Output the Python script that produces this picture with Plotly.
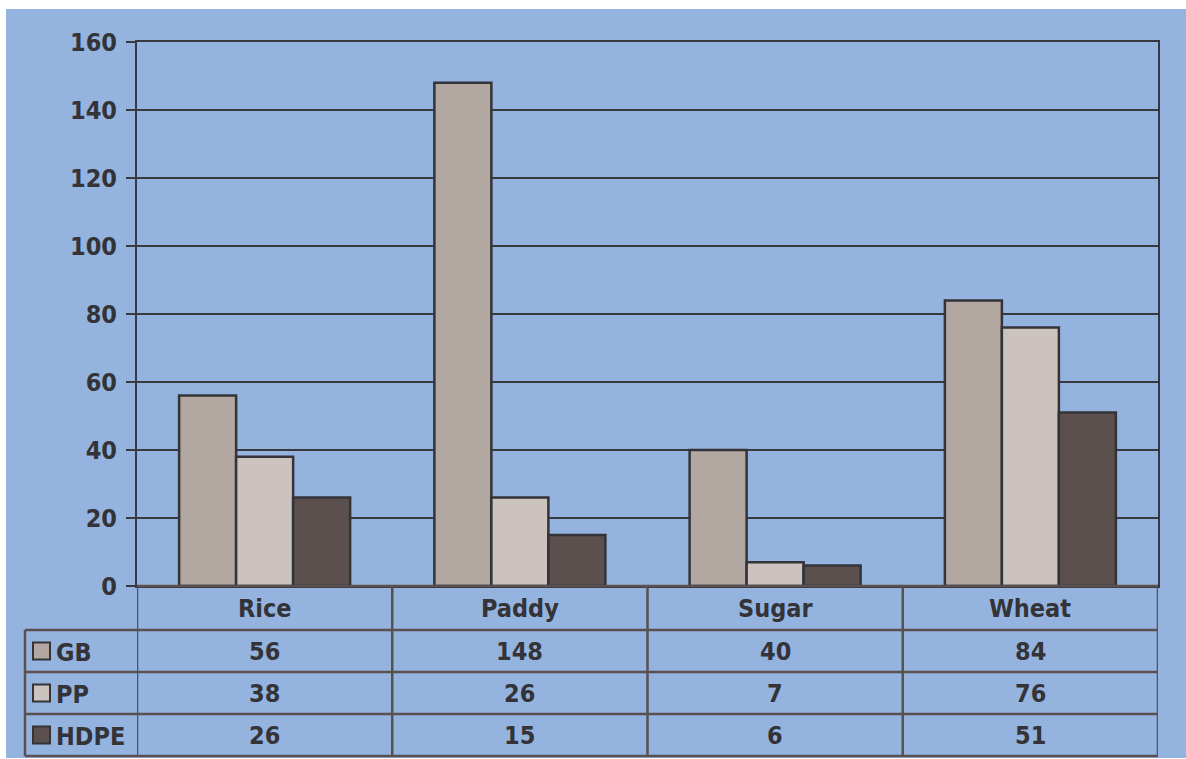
import plotly.graph_objects as go

categories = ["Rice", "Paddy", "Sugar", "Wheat"]
series_names = ["GB", "PP", "HDPE"]
gb = [56, 148, 40, 84]
pp = [38, 26, 7, 76]
hdpe = [26, 15, 6, 51]
series_values = [gb, pp, hdpe]
colors = ["#B3A7A2", "#CCC3BF", "#5B504D"]
y_ticks = [0, 20, 40, 60, 80, 100, 120, 140, 160]

W, H = 1186, 759
L, R, T, B = 137, 1158, 42, 586  # plot area in pixels
PW, PH = R - L, B - T

def px(x):
    return (x - L) / PW

def py(y):
    return (B - y) / PH

BG = "#95B3DF"
TXT = "#333338"
GRID = "#38383F"
TAB = "#5A5050"
FONT = "DejaVu Sans Condensed, DejaVu Sans"
FS = 25

fig = go.Figure()
for name, vals, col in zip(series_names, series_values, colors):
    fig.add_trace(go.Bar(
        x=categories, y=vals, name=name,
        marker=dict(color=col, line=dict(color="#333338", width=2.5)),
        showlegend=False,
    ))

shapes = []
# blue background panel
shapes.append(dict(type="rect", xref="paper", yref="paper", layer="below",
                   x0=px(6), x1=px(1186), y0=py(758), y1=py(9),
                   fillcolor=BG, line=dict(width=0)))

def hline(y, x0, x1):
    shapes.append(dict(type="line", xref="paper", yref="paper",
                       x0=px(x0), x1=px(x1), y0=py(y), y1=py(y),
                       line=dict(color=TAB, width=2.5)))

def vline_data(xd, y0, y1):
    shapes.append(dict(type="line", xref="x", yref="paper",
                       x0=xd, x1=xd, y0=py(y0), y1=py(y1),
                       line=dict(color=TAB, width=2.5)))

def vline_px(x, y0, y1):
    shapes.append(dict(type="line", xref="paper", yref="paper",
                       x0=px(x), x1=px(x), y0=py(y0), y1=py(y1),
                       line=dict(color=TAB, width=2.5)))

hline(586, 137, 1158)
for yy in [630, 672, 714, 756]:
    hline(yy, 25, 1158)
vline_px(25, 630, 756)
for i in range(len(categories) + 1):
    vline_data(i - 0.5, 586, 756)

annotations = []
row_centers = [651, 693, 735]
for i, c in enumerate(categories):
    annotations.append(dict(x=c, xref="x", y=py(608), yref="paper",
                            text=c, showarrow=False,
                            font=dict(family=FONT, size=FS, color=TXT, weight="bold"),
                            xanchor="center", yanchor="middle"))
    for r, vals in enumerate(series_values):
        annotations.append(dict(x=c, xref="x", y=py(row_centers[r]), yref="paper",
                                text=str(vals[i]), showarrow=False,
                                font=dict(family=FONT, size=FS, color=TXT, weight="bold"),
                                xanchor="center", yanchor="middle"))

for r, (name, col) in enumerate(zip(series_names, colors)):
    yc = row_centers[r]
    shapes.append(dict(type="rect", xref="paper", yref="paper",
                       x0=px(33), x1=px(50), y0=py(yc + 8.5), y1=py(yc - 8.5),
                       fillcolor=col, line=dict(color="#333338", width=2)))
    annotations.append(dict(x=px(54), xref="paper", y=py(yc + 1), yref="paper",
                            text=name, showarrow=False,
                            font=dict(family=FONT, size=FS, color=TXT, weight="bold"),
                            xanchor="left", yanchor="middle"))

fig.update_layout(
    width=W, height=H,
    margin=dict(l=L, r=W - R, t=T, b=H - B, pad=0),
    paper_bgcolor="white", plot_bgcolor=BG,
    barmode="group", bargap=0.33, bargroupgap=0,
    shapes=shapes, annotations=annotations,
    font=dict(family=FONT, color=TXT),
    xaxis=dict(range=[-0.5, 3.5], showticklabels=False, showgrid=False,
               zeroline=False, showline=True, linecolor=GRID, linewidth=2,
               mirror=True, ticks=""),
    yaxis=dict(range=[0, 160], tickvals=y_ticks, showgrid=True,
               gridcolor=GRID, gridwidth=2, zeroline=False,
               showline=True, linecolor=GRID, linewidth=2, mirror=True,
               ticks="outside", ticklen=9, tickwidth=2, tickcolor=GRID,
               ticklabelstandoff=4,
               tickfont=dict(family=FONT, size=FS, color=TXT, weight="bold")),
)

fig.write_html("out.html", config={"displayModeBar": False},
               post_script="document.body.style.margin='0';")
